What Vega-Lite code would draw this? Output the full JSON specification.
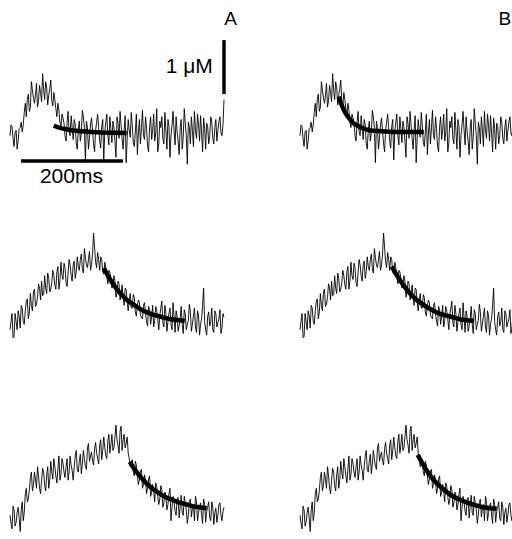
{
"$schema":"https://vega.github.io/schema/vega-lite/v6.json",
"background":"white",
"padding":{"left":8,"top":0,"right":0,"bottom":0},
"config":{"view":{"stroke":null},"concat":{"spacing":0},"line":{"color":"black"}},
"datasets":{
"tr1":[{"t":0,"c":-0.05},{"t":4,"c":0.12},{"t":8,"c":-0.25},{"t":12,"c":0.05},{"t":16,"c":-0.15},{"t":20,"c":0.10},{"t":24,"c":0.02},{"t":28,"c":0.38},{"t":32,"c":0.30},{"t":36,"c":0.72},{"t":40,"c":0.48},{"t":44,"c":0.80},{"t":48,"c":0.55},{"t":52,"c":0.92},{"t":56,"c":0.60},{"t":60,"c":0.75},{"t":64,"c":1.10},{"t":68,"c":0.62},{"t":72,"c":0.85},{"t":76,"c":0.70},{"t":80,"c":0.98},{"t":84,"c":0.50},{"t":88,"c":0.62},{"t":92,"c":0.30},{"t":96,"c":0.42},{"t":100,"c":0.10},{"t":104,"c":0.28},{"t":108,"c":-0.05},{"t":112,"c":0.20},{"t":116,"c":0.02},{"t":120,"c":0.32},{"t":124,"c":-0.12},{"t":128,"c":0.15},{"t":132,"c":-0.30},{"t":136,"c":0.22},{"t":140,"c":0.00},{"t":144,"c":0.30},{"t":148,"c":-0.55},{"t":152,"c":0.10},{"t":156,"c":-0.10},{"t":160,"c":0.28},{"t":164,"c":-0.20},{"t":168,"c":0.05},{"t":172,"c":0.35},{"t":176,"c":-0.15},{"t":180,"c":0.12},{"t":184,"c":-0.50},{"t":188,"c":0.20},{"t":192,"c":-0.05},{"t":196,"c":0.30},{"t":200,"c":-0.18},{"t":204,"c":0.10},{"t":208,"c":-0.45},{"t":212,"c":0.18},{"t":216,"c":0.40},{"t":220,"c":-0.10},{"t":224,"c":0.05},{"t":228,"c":-0.55},{"t":232,"c":0.25},{"t":236,"c":-0.08},{"t":240,"c":0.15},{"t":244,"c":-0.25},{"t":248,"c":0.35},{"t":252,"c":0.00},{"t":256,"c":-0.20},{"t":260,"c":0.42},{"t":264,"c":-0.12},{"t":268,"c":0.08},{"t":272,"c":-0.35},{"t":276,"c":0.30},{"t":280,"c":0.05},{"t":284,"c":-0.15},{"t":288,"c":0.45},{"t":292,"c":-0.20},{"t":296,"c":0.10},{"t":300,"c":-0.10},{"t":304,"c":0.38},{"t":308,"c":-0.30},{"t":312,"c":0.12},{"t":316,"c":-0.05},{"t":320,"c":0.40},{"t":324,"c":-0.22},{"t":328,"c":0.02},{"t":332,"c":-0.40},{"t":336,"c":0.25},{"t":340,"c":-0.08},{"t":344,"c":0.18},{"t":348,"c":-0.58},{"t":352,"c":0.10},{"t":356,"c":0.30},{"t":360,"c":-0.25},{"t":364,"c":0.05},{"t":368,"c":0.35},{"t":372,"c":-0.15},{"t":376,"c":0.00},{"t":380,"c":0.28},{"t":384,"c":-0.30},{"t":388,"c":0.12},{"t":392,"c":-0.05},{"t":396,"c":0.20},{"t":400,"c":-0.20},{"t":404,"c":0.25},{"t":408,"c":0.05},{"t":412,"c":0.30},{"t":416,"c":-0.05},{"t":420,"c":0.62},
{"t":2,"c":0.15},{"t":6,"c":-0.10},{"t":10,"c":0.02},{"t":14,"c":-0.30},{"t":18,"c":0.08},{"t":22,"c":0.20},{"t":26,"c":0.15},{"t":30,"c":0.55},{"t":34,"c":0.62},{"t":38,"c":0.40},{"t":42,"c":0.95},{"t":46,"c":0.65},{"t":50,"c":0.70},{"t":54,"c":0.48},{"t":58,"c":0.88},{"t":62,"c":0.58},{"t":66,"c":0.80},{"t":70,"c":0.95},{"t":74,"c":0.52},{"t":78,"c":0.82},{"t":82,"c":0.60},{"t":86,"c":0.75},{"t":90,"c":0.45},{"t":94,"c":0.55},{"t":98,"c":0.20},{"t":102,"c":0.35},{"t":106,"c":0.18},{"t":110,"c":-0.15},{"t":114,"c":0.40},{"t":118,"c":-0.05},{"t":122,"c":0.10},{"t":126,"c":0.25},{"t":130,"c":-0.20},{"t":134,"c":0.05},{"t":138,"c":-0.15},{"t":142,"c":0.42},{"t":146,"c":0.10},{"t":150,"c":0.22},{"t":154,"c":-0.30},{"t":158,"c":0.15},{"t":162,"c":0.05},{"t":166,"c":-0.35},{"t":170,"c":0.20},{"t":174,"c":0.10},{"t":178,"c":-0.28},{"t":182,"c":0.25},{"t":186,"c":0.02},{"t":190,"c":0.35},{"t":194,"c":-0.22},{"t":198,"c":0.08},{"t":202,"c":0.22},{"t":206,"c":-0.15},{"t":210,"c":0.30},{"t":214,"c":-0.10},{"t":218,"c":0.15},{"t":222,"c":-0.30},{"t":226,"c":0.32},{"t":230,"c":-0.10},{"t":234,"c":0.05},{"t":238,"c":0.38},{"t":242,"c":-0.18},{"t":246,"c":0.02},{"t":250,"c":-0.40},{"t":254,"c":0.25},{"t":258,"c":0.10},{"t":262,"c":-0.05},{"t":266,"c":0.30},{"t":270,"c":-0.25},{"t":274,"c":0.12},{"t":278,"c":-0.12},{"t":282,"c":0.35},{"t":286,"c":0.00},{"t":290,"c":-0.35},{"t":294,"c":0.22},{"t":298,"c":0.30},{"t":302,"c":-0.20},{"t":306,"c":0.05},{"t":310,"c":0.25},{"t":314,"c":-0.45},{"t":318,"c":0.15},{"t":322,"c":0.05},{"t":326,"c":0.30},{"t":330,"c":-0.15},{"t":334,"c":0.10},{"t":338,"c":-0.30},{"t":342,"c":0.45},{"t":346,"c":-0.05},{"t":350,"c":0.20},{"t":354,"c":-0.20},{"t":358,"c":0.05},{"t":362,"c":0.40},{"t":366,"c":-0.10},{"t":370,"c":0.15},{"t":374,"c":0.32},{"t":378,"c":-0.35},{"t":382,"c":0.08},{"t":386,"c":0.18},{"t":390,"c":-0.20},{"t":394,"c":0.30},{"t":398,"c":-0.10},{"t":402,"c":0.10},{"t":406,"c":-0.15},{"t":410,"c":0.20},{"t":414,"c":0.00},{"t":418,"c":0.15}],
"tr2":[{"t":0,"c":-0.05},{"t":4,"c":0.25},{"t":8,"c":-0.18},{"t":12,"c":0.10},{"t":16,"c":0.30},{"t":20,"c":-0.02},{"t":24,"c":0.35},{"t":28,"c":0.05},{"t":32,"c":0.48},{"t":36,"c":0.15},{"t":40,"c":0.62},{"t":44,"c":0.30},{"t":48,"c":0.70},{"t":52,"c":0.42},{"t":56,"c":0.80},{"t":60,"c":0.50},{"t":64,"c":0.58},{"t":68,"c":0.95},{"t":72,"c":0.62},{"t":76,"c":0.90},{"t":80,"c":0.70},{"t":84,"c":1.05},{"t":88,"c":0.78},{"t":92,"c":1.02},{"t":96,"c":0.70},{"t":100,"c":1.20},{"t":104,"c":0.88},{"t":108,"c":1.10},{"t":112,"c":0.75},{"t":116,"c":1.25},{"t":120,"c":0.95},{"t":124,"c":1.15},{"t":128,"c":0.90},{"t":132,"c":1.30},{"t":136,"c":1.05},{"t":140,"c":1.35},{"t":144,"c":1.00},{"t":148,"c":1.28},{"t":152,"c":1.10},{"t":156,"c":1.40},{"t":160,"c":1.15},{"t":164,"c":1.74},{"t":168,"c":1.20},{"t":172,"c":1.38},{"t":176,"c":1.05},{"t":180,"c":1.25},{"t":184,"c":0.98},{"t":188,"c":1.10},{"t":192,"c":0.80},{"t":196,"c":1.02},{"t":200,"c":0.72},{"t":204,"c":0.95},{"t":208,"c":0.55},{"t":212,"c":0.85},{"t":216,"c":0.50},{"t":220,"c":0.78},{"t":224,"c":0.40},{"t":228,"c":0.70},{"t":232,"c":0.30},{"t":236,"c":0.62},{"t":240,"c":0.35},{"t":244,"c":0.55},{"t":248,"c":0.20},{"t":252,"c":0.50},{"t":256,"c":0.22},{"t":260,"c":0.15},{"t":264,"c":0.45},{"t":268,"c":0.10},{"t":272,"c":0.38},{"t":276,"c":0.05},{"t":280,"c":0.40},{"t":284,"c":0.12},{"t":288,"c":0.30},{"t":292,"c":-0.05},{"t":296,"c":0.35},{"t":300,"c":0.08},{"t":304,"c":0.40},{"t":308,"c":-0.08},{"t":312,"c":0.25},{"t":316,"c":0.05},{"t":320,"c":0.45},{"t":324,"c":-0.10},{"t":328,"c":0.20},{"t":332,"c":0.02},{"t":336,"c":0.38},{"t":340,"c":-0.12},{"t":344,"c":0.25},{"t":348,"c":0.05},{"t":352,"c":0.42},{"t":356,"c":-0.08},{"t":360,"c":0.20},{"t":364,"c":0.00},{"t":368,"c":0.30},{"t":372,"c":-0.15},{"t":376,"c":0.15},{"t":380,"c":0.72},{"t":384,"c":-0.05},{"t":388,"c":0.20},{"t":392,"c":0.02},{"t":396,"c":0.35},{"t":400,"c":-0.10},{"t":404,"c":0.25},{"t":408,"c":0.08},{"t":412,"c":0.32},{"t":416,"c":-0.02},{"t":420,"c":0.18},
{"t":2,"c":0.10},{"t":6,"c":-0.20},{"t":10,"c":0.25},{"t":14,"c":-0.05},{"t":18,"c":0.20},{"t":22,"c":0.40},{"t":26,"c":0.10},{"t":30,"c":0.30},{"t":34,"c":0.52},{"t":38,"c":0.28},{"t":42,"c":0.40},{"t":46,"c":0.65},{"t":50,"c":0.38},{"t":54,"c":0.55},{"t":58,"c":0.72},{"t":62,"c":0.85},{"t":66,"c":0.60},{"t":70,"c":0.72},{"t":74,"c":1.00},{"t":78,"c":0.65},{"t":82,"c":0.82},{"t":86,"c":0.95},{"t":90,"c":0.70},{"t":94,"c":1.12},{"t":98,"c":0.85},{"t":102,"c":0.95},{"t":106,"c":1.18},{"t":110,"c":0.82},{"t":114,"c":1.00},{"t":118,"c":1.15},{"t":122,"c":0.85},{"t":126,"c":1.22},{"t":130,"c":1.02},{"t":134,"c":1.12},{"t":138,"c":1.25},{"t":142,"c":1.08},{"t":146,"c":1.45},{"t":150,"c":1.15},{"t":154,"c":1.25},{"t":158,"c":1.05},{"t":162,"c":1.35},{"t":166,"c":1.48},{"t":170,"c":1.10},{"t":174,"c":1.25},{"t":178,"c":1.30},{"t":182,"c":1.02},{"t":186,"c":1.20},{"t":190,"c":0.95},{"t":194,"c":1.05},{"t":198,"c":0.90},{"t":202,"c":0.78},{"t":206,"c":0.85},{"t":210,"c":0.65},{"t":214,"c":0.80},{"t":218,"c":0.60},{"t":222,"c":0.55},{"t":226,"c":0.72},{"t":230,"c":0.45},{"t":234,"c":0.50},{"t":238,"c":0.35},{"t":242,"c":0.60},{"t":246,"c":0.28},{"t":250,"c":0.40},{"t":254,"c":0.45},{"t":258,"c":0.18},{"t":262,"c":0.40},{"t":266,"c":0.25},{"t":270,"c":0.02},{"t":274,"c":0.32},{"t":278,"c":0.20},{"t":282,"c":0.00},{"t":286,"c":0.38},{"t":290,"c":0.15},{"t":294,"c":0.22},{"t":298,"c":0.48},{"t":302,"c":0.00},{"t":306,"c":0.25},{"t":310,"c":0.10},{"t":314,"c":0.35},{"t":318,"c":-0.05},{"t":322,"c":0.18},{"t":326,"c":0.30},{"t":330,"c":-0.08},{"t":334,"c":0.15},{"t":338,"c":0.05},{"t":342,"c":0.32},{"t":346,"c":-0.05},{"t":350,"c":0.12},{"t":354,"c":0.28},{"t":358,"c":0.05},{"t":362,"c":0.35},{"t":366,"c":-0.10},{"t":370,"c":0.22},{"t":374,"c":0.05},{"t":378,"c":0.40},{"t":382,"c":0.10},{"t":386,"c":-0.15},{"t":390,"c":0.28},{"t":394,"c":0.10},{"t":398,"c":-0.05},{"t":402,"c":0.30},{"t":406,"c":0.00},{"t":410,"c":0.15},{"t":414,"c":-0.12},{"t":418,"c":0.25}],
"tr3":[{"t":0,"c":0.05},{"t":4,"c":-0.20},{"t":8,"c":0.15},{"t":12,"c":-0.08},{"t":16,"c":0.20},{"t":20,"c":-0.25},{"t":24,"c":0.30},{"t":28,"c":0.10},{"t":32,"c":0.55},{"t":36,"c":0.35},{"t":40,"c":0.75},{"t":44,"c":0.50},{"t":48,"c":0.85},{"t":52,"c":0.55},{"t":56,"c":0.78},{"t":60,"c":0.45},{"t":64,"c":0.92},{"t":68,"c":0.60},{"t":72,"c":0.80},{"t":76,"c":0.55},{"t":80,"c":1.05},{"t":84,"c":0.72},{"t":88,"c":0.95},{"t":92,"c":0.65},{"t":96,"c":1.15},{"t":100,"c":0.80},{"t":104,"c":1.02},{"t":108,"c":0.75},{"t":112,"c":1.10},{"t":116,"c":0.85},{"t":120,"c":0.98},{"t":124,"c":0.70},{"t":128,"c":1.15},{"t":132,"c":0.90},{"t":136,"c":1.05},{"t":140,"c":0.82},{"t":144,"c":1.25},{"t":148,"c":0.95},{"t":152,"c":1.30},{"t":156,"c":1.05},{"t":160,"c":1.22},{"t":164,"c":0.98},{"t":168,"c":1.40},{"t":172,"c":1.10},{"t":176,"c":1.35},{"t":180,"c":1.08},{"t":184,"c":1.50},{"t":188,"c":1.15},{"t":192,"c":1.42},{"t":196,"c":1.20},{"t":200,"c":1.55},{"t":204,"c":1.30},{"t":208,"c":1.72},{"t":212,"c":1.35},{"t":216,"c":1.60},{"t":220,"c":1.25},{"t":224,"c":1.55},{"t":228,"c":1.38},{"t":232,"c":1.20},{"t":236,"c":0.95},{"t":240,"c":1.08},{"t":244,"c":0.78},{"t":248,"c":0.98},{"t":252,"c":0.62},{"t":256,"c":0.88},{"t":260,"c":0.55},{"t":264,"c":0.80},{"t":268,"c":0.45},{"t":272,"c":0.72},{"t":276,"c":0.40},{"t":280,"c":0.62},{"t":284,"c":0.30},{"t":288,"c":0.58},{"t":292,"c":0.25},{"t":296,"c":0.60},{"t":300,"c":0.20},{"t":304,"c":0.48},{"t":308,"c":0.15},{"t":312,"c":0.45},{"t":316,"c":-0.05},{"t":320,"c":0.40},{"t":324,"c":0.12},{"t":328,"c":0.35},{"t":332,"c":0.00},{"t":336,"c":0.42},{"t":340,"c":0.05},{"t":344,"c":0.28},{"t":348,"c":-0.10},{"t":352,"c":0.30},{"t":356,"c":0.02},{"t":360,"c":0.25},{"t":364,"c":0.40},{"t":368,"c":-0.05},{"t":372,"c":0.22},{"t":376,"c":0.05},{"t":380,"c":0.35},{"t":384,"c":-0.08},{"t":388,"c":0.20},{"t":392,"c":0.00},{"t":396,"c":0.30},{"t":400,"c":-0.12},{"t":404,"c":0.18},{"t":408,"c":0.05},{"t":412,"c":0.28},{"t":416,"c":-0.05},{"t":420,"c":0.20},
{"t":2,"c":-0.10},{"t":6,"c":0.22},{"t":10,"c":-0.15},{"t":14,"c":0.10},{"t":18,"c":0.00},{"t":22,"c":0.15},{"t":26,"c":-0.05},{"t":30,"c":0.45},{"t":34,"c":0.30},{"t":38,"c":0.52},{"t":42,"c":0.85},{"t":46,"c":0.60},{"t":50,"c":0.72},{"t":54,"c":0.95},{"t":58,"c":0.55},{"t":62,"c":0.70},{"t":66,"c":0.85},{"t":70,"c":0.50},{"t":74,"c":0.95},{"t":78,"c":0.70},{"t":82,"c":0.85},{"t":86,"c":1.10},{"t":90,"c":0.78},{"t":94,"c":0.90},{"t":98,"c":0.70},{"t":102,"c":1.10},{"t":106,"c":0.85},{"t":110,"c":0.95},{"t":114,"c":0.70},{"t":118,"c":1.15},{"t":122,"c":0.88},{"t":126,"c":0.95},{"t":130,"c":1.25},{"t":134,"c":0.85},{"t":138,"c":1.18},{"t":142,"c":1.00},{"t":146,"c":1.10},{"t":150,"c":0.90},{"t":154,"c":1.38},{"t":158,"c":1.15},{"t":162,"c":1.05},{"t":166,"c":1.28},{"t":170,"c":1.20},{"t":174,"c":1.00},{"t":178,"c":1.45},{"t":182,"c":1.25},{"t":186,"c":1.30},{"t":190,"c":1.10},{"t":194,"c":1.55},{"t":198,"c":1.35},{"t":202,"c":1.25},{"t":206,"c":1.50},{"t":210,"c":1.45},{"t":214,"c":1.20},{"t":218,"c":1.70},{"t":222,"c":1.45},{"t":226,"c":1.30},{"t":230,"c":1.50},{"t":234,"c":1.10},{"t":238,"c":1.00},{"t":242,"c":0.85},{"t":246,"c":1.05},{"t":250,"c":0.78},{"t":254,"c":0.72},{"t":258,"c":0.90},{"t":262,"c":0.62},{"t":266,"c":0.70},{"t":270,"c":0.55},{"t":274,"c":0.78},{"t":278,"c":0.48},{"t":282,"c":0.50},{"t":286,"c":0.65},{"t":290,"c":0.40},{"t":294,"c":0.35},{"t":298,"c":0.52},{"t":302,"c":0.28},{"t":306,"c":0.40},{"t":310,"c":0.25},{"t":314,"c":0.55},{"t":318,"c":0.20},{"t":322,"c":0.30},{"t":326,"c":0.05},{"t":330,"c":0.38},{"t":334,"c":0.22},{"t":338,"c":0.10},{"t":342,"c":0.40},{"t":346,"c":0.15},{"t":350,"c":0.05},{"t":354,"c":0.35},{"t":358,"c":0.18},{"t":362,"c":-0.05},{"t":366,"c":0.30},{"t":370,"c":0.10},{"t":374,"c":0.28},{"t":378,"c":-0.10},{"t":382,"c":0.25},{"t":386,"c":0.12},{"t":390,"c":0.30},{"t":394,"c":-0.05},{"t":398,"c":0.20},{"t":402,"c":0.10},{"t":406,"c":-0.08},{"t":410,"c":0.25},{"t":414,"c":0.05},{"t":418,"c":0.12}],
"fA1":[{"t":86,"c":0.14},{"t":90,"c":0.12},{"t":96,"c":0.10},{"t":102,"c":0.085},{"t":110,"c":0.07},{"t":120,"c":0.05},{"t":130,"c":0.04},{"t":140,"c":0.03},{"t":160,"c":0.02},{"t":180,"c":0.01},{"t":200,"c":0.005},{"t":229,"c":0.0}],
"fB1":[{"t":76,"c":0.67},{"t":80,"c":0.56},{"t":84,"c":0.47},{"t":88,"c":0.39},{"t":92,"c":0.33},{"t":96,"c":0.28},{"t":100,"c":0.23},{"t":104,"c":0.19},{"t":108,"c":0.16},{"t":112,"c":0.14},{"t":116,"c":0.12},{"t":120,"c":0.10},{"t":128,"c":0.07},{"t":136,"c":0.05},{"t":144,"c":0.04},{"t":160,"c":0.03},{"t":180,"c":0.02},{"t":200,"c":0.02},{"t":243,"c":0.02}],
"fA2":[{"t":184,"c":1.09},{"t":192,"c":0.95},{"t":200,"c":0.83},{"t":208,"c":0.72},{"t":216,"c":0.63},{"t":224,"c":0.55},{"t":232,"c":0.48},{"t":240,"c":0.43},{"t":248,"c":0.38},{"t":256,"c":0.33},{"t":264,"c":0.29},{"t":272,"c":0.26},{"t":280,"c":0.23},{"t":288,"c":0.21},{"t":296,"c":0.19},{"t":304,"c":0.17},{"t":312,"c":0.15},{"t":320,"c":0.14},{"t":328,"c":0.13},{"t":336,"c":0.12},{"t":343,"c":0.11}],
"fB2":[{"t":180,"c":1.12},{"t":188,"c":0.99},{"t":196,"c":0.87},{"t":204,"c":0.76},{"t":212,"c":0.66},{"t":220,"c":0.58},{"t":228,"c":0.51},{"t":236,"c":0.45},{"t":244,"c":0.40},{"t":252,"c":0.35},{"t":260,"c":0.31},{"t":268,"c":0.27},{"t":276,"c":0.24},{"t":284,"c":0.22},{"t":292,"c":0.20},{"t":300,"c":0.18},{"t":308,"c":0.16},{"t":316,"c":0.14},{"t":324,"c":0.13},{"t":332,"c":0.12},{"t":341,"c":0.11}],
"fA3":[{"t":235,"c":1.04},{"t":243,"c":0.92},{"t":251,"c":0.82},{"t":259,"c":0.73},{"t":267,"c":0.65},{"t":275,"c":0.58},{"t":283,"c":0.52},{"t":291,"c":0.47},{"t":299,"c":0.42},{"t":307,"c":0.38},{"t":315,"c":0.35},{"t":323,"c":0.32},{"t":331,"c":0.29},{"t":339,"c":0.27},{"t":347,"c":0.25},{"t":355,"c":0.23},{"t":363,"c":0.21},{"t":371,"c":0.20},{"t":379,"c":0.19},{"t":386,"c":0.18}],
"fB3":[{"t":231,"c":1.17},{"t":239,"c":1.03},{"t":247,"c":0.90},{"t":255,"c":0.79},{"t":263,"c":0.70},{"t":271,"c":0.62},{"t":279,"c":0.55},{"t":287,"c":0.49},{"t":295,"c":0.43},{"t":303,"c":0.39},{"t":311,"c":0.35},{"t":319,"c":0.32},{"t":327,"c":0.29},{"t":335,"c":0.26},{"t":343,"c":0.24},{"t":351,"c":0.22},{"t":359,"c":0.20},{"t":367,"c":0.19},{"t":375,"c":0.18},{"t":386,"c":0.17}]
},
"vconcat":[
{"bounds":"flush","hconcat":[
 {"width":214,"height":190,
  "encoding":{"x":{"field":"t","type":"quantitative","scale":{"domain":[0,420],"nice":false,"zero":false},"axis":null},"y":{"field":"c","type":"quantitative","scale":{"domain":[-1.056,2.463],"nice":false,"zero":false},"axis":null}},
  "layer":[
   {"data":{"name":"tr1"},"mark":{"type":"line","color":"black","strokeWidth":0.9}},
   {"data":{"name":"fA1"},"mark":{"type":"line","color":"black","strokeWidth":4.5}},
   {"data":{"values":[{"t":420,"c":0.72,"c2":1.72}]},"mark":{"type":"rule","color":"black","strokeWidth":3.5},"encoding":{"y2":{"field":"c2"}}},
   {"data":{"values":[{"t":21.6,"t2":221.6,"c":-0.52}]},"mark":{"type":"rule","color":"black","strokeWidth":3.5},"encoding":{"x2":{"field":"t2"}}},
   {"data":{"values":[{"t":398,"c":1.11,"label":"1 μM"}]},"mark":{"type":"text","align":"right","baseline":"alphabetic","font":"Liberation Sans","fontSize":21,"color":"black"},"encoding":{"text":{"field":"label"}}},
   {"data":{"values":[{"t":120.6,"c":-0.926,"label":"200ms"}]},"mark":{"type":"text","align":"center","baseline":"alphabetic","font":"Liberation Sans","fontSize":21,"color":"black"},"encoding":{"text":{"field":"label"}}},
   {"data":{"values":[{"t":433,"c":2.0,"label":"A"}]},"mark":{"type":"text","align":"center","baseline":"alphabetic","font":"Liberation Sans","fontSize":19,"color":"black"},"encoding":{"text":{"field":"label"}}}
  ]},
 {"width":214,"height":190,
  "encoding":{"x":{"field":"t","type":"quantitative","scale":{"domain":[0,420],"nice":false,"zero":false},"axis":null},"y":{"field":"c","type":"quantitative","scale":{"domain":[-1.056,2.463],"nice":false,"zero":false},"axis":null}},
  "layer":[
   {"data":{"name":"tr1"},"mark":{"type":"line","color":"black","strokeWidth":0.9}},
   {"data":{"name":"fB1"},"mark":{"type":"line","color":"black","strokeWidth":4.5}},
   {"data":{"values":[{"t":402,"c":2.0,"label":"B"}]},"mark":{"type":"text","align":"center","baseline":"alphabetic","font":"Liberation Sans","fontSize":19,"color":"black"},"encoding":{"text":{"field":"label"}}}
  ]}
],"spacing":76},
{"bounds":"flush","hconcat":[
 {"width":214,"height":195,
  "encoding":{"x":{"field":"t","type":"quantitative","scale":{"domain":[0,420],"nice":false,"zero":false},"axis":null},"y":{"field":"c","type":"quantitative","scale":{"domain":[-1.074,2.537],"nice":false,"zero":false},"axis":null}},
  "layer":[
   {"data":{"name":"tr2"},"mark":{"type":"line","color":"black","strokeWidth":0.9}},
   {"data":{"name":"fA2"},"mark":{"type":"line","color":"black","strokeWidth":4.5}}
  ]},
 {"width":214,"height":195,
  "encoding":{"x":{"field":"t","type":"quantitative","scale":{"domain":[0,420],"nice":false,"zero":false},"axis":null},"y":{"field":"c","type":"quantitative","scale":{"domain":[-1.074,2.537],"nice":false,"zero":false},"axis":null}},
  "layer":[
   {"data":{"name":"tr2"},"mark":{"type":"line","color":"black","strokeWidth":0.9}},
   {"data":{"name":"fB2"},"mark":{"type":"line","color":"black","strokeWidth":4.5}}
  ]}
],"spacing":76},
{"bounds":"flush","hconcat":[
 {"width":214,"height":154,
  "encoding":{"x":{"field":"t","type":"quantitative","scale":{"domain":[0,420],"nice":false,"zero":false},"axis":null},"y":{"field":"c","type":"quantitative","scale":{"domain":[-0.389,2.463],"nice":false,"zero":false},"axis":null}},
  "layer":[
   {"data":{"name":"tr3"},"mark":{"type":"line","color":"black","strokeWidth":0.9}},
   {"data":{"name":"fA3"},"mark":{"type":"line","color":"black","strokeWidth":4.5}}
  ]},
 {"width":214,"height":154,
  "encoding":{"x":{"field":"t","type":"quantitative","scale":{"domain":[0,420],"nice":false,"zero":false},"axis":null},"y":{"field":"c","type":"quantitative","scale":{"domain":[-0.389,2.463],"nice":false,"zero":false},"axis":null}},
  "layer":[
   {"data":{"name":"tr3"},"mark":{"type":"line","color":"black","strokeWidth":0.9}},
   {"data":{"name":"fB3"},"mark":{"type":"line","color":"black","strokeWidth":4.5}}
  ]}
],"spacing":76}
],
"spacing":0
}
